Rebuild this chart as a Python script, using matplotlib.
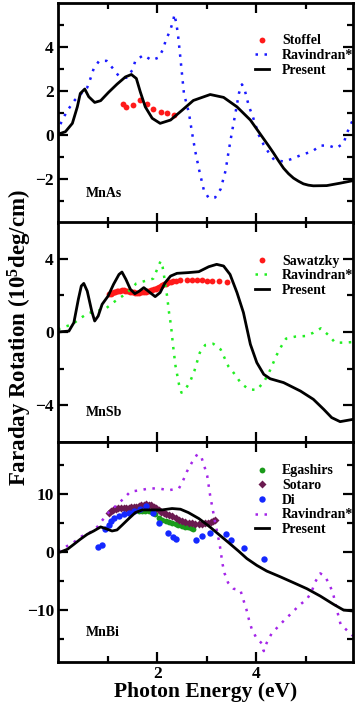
import numpy as np
import matplotlib
matplotlib.use('Agg')
import matplotlib.pyplot as plt
from matplotlib.ticker import FixedLocator

plt.rcParams['font.family'] = ['Liberation Serif', 'DejaVu Serif']
plt.rcParams['font.weight'] = 'bold'
plt.rcParams['mathtext.fontset'] = 'custom'
plt.rcParams['mathtext.rm'] = 'Liberation Serif:bold'
plt.rcParams['mathtext.default'] = 'rm'

# ---------------- MnAs ----------------
as_present_x = [0.0, 0.02, 0.15, 0.29, 0.39, 0.45, 0.54, 0.62, 0.74, 0.86, 1.02, 1.19, 1.36,
                1.48, 1.58, 1.66, 1.76, 1.9, 2.06, 2.27, 2.5, 2.73, 3.07, 3.34, 3.61, 3.88,
                4.14, 4.25, 4.35, 4.45, 4.55, 4.65, 4.75, 4.85, 4.95, 5.05, 5.15, 5.42, 5.69,
                5.96]
as_present_y = [0.0, 0.05, 0.15, 0.53, 1.28, 1.89, 2.09, 1.74, 1.48, 1.56, 1.94, 2.31, 2.64,
                2.75, 2.57, 1.96, 1.28, 0.76, 0.53, 0.68, 1.12, 1.57, 1.84, 1.71, 1.28, 0.68,
                -0.15, -0.5, -0.83, -1.18, -1.51, -1.76, -1.96, -2.1, -2.22, -2.28, -2.31,
                -2.3, -2.19, -2.07]
as_rav_x = [0.0, 0.04, 0.12, 0.22, 0.34, 0.46, 0.59, 0.66, 0.72, 0.83, 0.98, 1.11, 1.23, 1.38,
            1.5, 1.56, 1.72, 1.89, 2.03, 2.12, 2.18, 2.26, 2.32, 2.35, 2.39, 2.42, 2.46, 2.5,
            2.54, 2.59, 2.64, 2.7, 2.77, 2.85, 2.94, 3.04, 3.17, 3.28, 3.33, 3.38, 3.44, 3.51,
            3.58, 3.65, 3.71, 3.76, 3.8, 3.85, 3.93, 4.05, 4.15, 4.25, 4.36, 4.56, 4.75, 4.93,
            5.12, 5.29, 5.46, 5.61, 5.76, 5.83, 5.95]
as_rav_y = [0.1, 0.45, 0.83, 1.21, 1.59, 1.86, 2.16, 2.6, 3.02, 3.37, 3.37, 3.02, 2.67, 2.6,
            2.95, 3.37, 3.63, 3.4, 3.52, 3.9, 4.35, 4.73, 5.18, 5.48, 5.02, 4.56, 3.7, 2.79,
            1.89, 1.44, 1.01, 0.15, -0.76, -1.62, -2.49, -2.87, -2.84, -2.46, -2.04, -1.62,
            -0.76, 0.15, 1.01, 1.9, 2.3, 2.11, 1.74, 1.31, 0.83, 0.0, -0.45, -0.8, -1.13,
            -1.21, -1.06, -0.88, -0.76, -0.48, -0.48, -0.6, -0.38, 0.1, 0.7]
stoffel_x = [1.32, 1.38, 1.51, 1.65, 1.79, 1.92, 2.07, 2.2, 2.34]
stoffel_y = [1.39, 1.28, 1.36, 1.59, 1.39, 1.19, 1.03, 0.98, 0.91]

# ---------------- MnSb ----------------
sb_present_x = [0.0, 0.22, 0.32, 0.41, 0.47, 0.52, 0.59, 0.68, 0.74, 0.81, 0.89, 1.01, 1.12,
                1.23, 1.29, 1.37, 1.46, 1.55, 1.64, 1.73, 1.82, 1.96, 2.06, 2.16, 2.27, 2.4,
                2.63, 2.84, 3.04, 3.2, 3.34, 3.47, 3.61, 3.74, 3.88, 4.01, 4.15, 4.28, 4.55,
                4.89, 5.15, 5.36, 5.52, 5.69, 5.96]
sb_present_y = [0.0, 0.05, 0.51, 1.78, 2.51, 2.65, 2.23, 1.14, 0.6, 0.87, 1.51, 1.96, 2.6,
                3.14, 3.27, 2.87, 2.33, 2.09, 2.23, 2.42, 2.23, 1.93, 2.15, 2.69, 3.05, 3.2,
                3.24, 3.29, 3.56, 3.69, 3.6, 3.14, 2.15, 1.06, -0.67, -1.67, -2.31, -2.55,
                -2.76, -3.22, -3.67, -4.22, -4.67, -4.89, -4.76]
sb_rav_x = [0.0, 0.12, 0.29, 0.44, 0.6, 0.79, 0.96, 1.11, 1.3, 1.43, 1.58, 1.75, 1.92, 2.0,
            2.07, 2.11, 2.15, 2.2, 2.24, 2.28, 2.32, 2.37, 2.44, 2.49, 2.57, 2.67, 2.75,
            2.86, 2.97, 3.13, 3.28, 3.44, 3.58, 3.69, 3.85, 4.01, 4.15, 4.25, 4.33, 4.4, 4.5,
            4.6, 4.79, 4.99, 5.15, 5.3, 5.46, 5.59, 5.76, 5.95]
sb_rav_y = [0.15, 0.27, 0.42, 0.73, 1.02, 1.15, 1.27, 1.6, 1.96, 2.24, 2.65, 2.78, 2.91, 3.42,
            3.87, 3.55, 2.87, 1.96, 1.05, 0.33, -0.73, -1.85, -2.85, -3.31, -3.13, -2.67,
            -2.13, -1.13, -0.71, -0.64, -0.95, -1.89, -2.35, -2.8, -3.13, -3.16, -2.73,
            -2.25, -1.76, -1.31, -0.8, -0.36, -0.25, -0.22, -0.04, 0.2, -0.18, -0.58, -0.58,
            -0.55]
saw_x = [1.03, 1.06, 1.09, 1.12, 1.15, 1.19, 1.22, 1.26, 1.29, 1.33, 1.36, 1.4, 1.43, 1.46,
         1.5, 1.53, 1.56, 1.6, 1.63, 1.66, 1.7, 1.73, 1.77, 1.8, 1.83, 1.87, 1.9, 1.93, 1.97,
         2.0, 2.03, 2.07, 2.1, 2.13, 2.17, 2.2, 2.24, 2.27, 2.32, 2.37, 2.47, 2.6, 2.7, 2.81,
         2.91, 3.01, 3.11, 3.24, 3.41]
saw_y = [2.05, 2.1, 2.15, 2.18, 2.2, 2.24, 2.25, 2.26, 2.27, 2.27, 2.26, 2.24, 2.22, 2.2,
         2.18, 2.16, 2.15, 2.15, 2.15, 2.16, 2.17, 2.18, 2.2, 2.22, 2.24, 2.27, 2.3, 2.33, 2.36,
         2.4, 2.45, 2.51, 2.55, 2.6, 2.64, 2.68, 2.72, 2.75, 2.77, 2.78, 2.84, 2.84, 2.82,
         2.82, 2.82, 2.78, 2.78, 2.78, 2.75]

# ---------------- MnBi ----------------
bi_present_x = [0.0, 0.05, 0.19, 0.32, 0.45, 0.59, 0.72, 0.86, 0.96, 1.09, 1.19, 1.29, 1.43,
                1.56, 1.7, 1.9, 2.1, 2.3, 2.47, 2.63, 2.84, 3.04, 3.24, 3.44, 3.64, 3.81,
                4.01, 4.21, 4.48, 4.75, 5.02, 5.29, 5.56, 5.76, 5.96]
bi_present_y = [0.0, 0.0, 0.47, 1.33, 2.2, 3.06, 3.63, 4.33, 4.05, 3.63, 3.81, 4.62, 5.78,
                6.81, 7.27, 7.27, 7.27, 7.51, 7.39, 6.81, 5.78, 4.5, 3.06, 1.63, 0.17, -1.14,
                -2.31, -3.29, -4.27, -5.3, -6.34, -7.61, -9.05, -10.03, -10.2]
bi_rav_x = [0.0, 0.12, 0.29, 0.49, 0.64, 0.79, 0.91, 1.03, 1.18, 1.33, 1.46, 1.65, 1.85, 2.05,
            2.23, 2.44, 2.52, 2.6, 2.7, 2.81, 2.89, 2.95, 3.01, 3.04, 3.07, 3.12, 3.17, 3.22,
            3.26, 3.29, 3.32, 3.36, 3.43, 3.54, 3.68, 3.74, 3.8, 3.85, 3.91, 4.0, 4.11, 4.15,
            4.21, 4.31, 4.45, 4.58, 4.72, 4.87, 5.02, 5.12, 5.19, 5.29, 5.39, 5.49, 5.56,
            5.64, 5.7, 5.83, 5.95]
bi_rav_y = [0.2, 0.75, 1.5, 2.77, 3.34, 4.32, 5.65, 6.92, 8.07, 9.28, 10.43, 10.66, 11.0,
            10.95, 10.66, 11.0, 12.28, 13.89, 15.45, 16.89, 16.43, 14.87, 13.14, 11.41, 9.68,
            7.38, 5.07, 3.05, 1.33, -0.4, -2.13, -3.69, -5.3, -6.34, -6.63, -8.3, -9.91,
            -11.64, -13.37, -14.81, -15.79, -17.12, -15.68, -14.06, -12.8, -11.64, -10.49,
            -9.16, -8.18, -6.74, -5.13, -3.69, -4.27, -5.88, -7.61, -10.49, -12.51, -13.54,
            -14.5]
ega_x = [1.63, 1.7, 1.76, 1.84, 1.9, 1.96, 2.03, 2.1, 2.17, 2.23, 2.3, 2.37, 2.43, 2.5, 2.56,
         2.62, 2.68, 2.73]
ega_y = [7.09, 7.0, 7.0, 7.0, 6.9, 6.5, 5.95, 5.6, 5.35, 5.2, 5.07, 4.85, 4.65, 4.5, 4.38,
         4.25, 4.12, 4.04]
sot_x = [1.03, 1.07, 1.11, 1.16, 1.21, 1.27, 1.33, 1.38, 1.43, 1.48, 1.53, 1.58, 1.63, 1.68,
         1.73, 1.78, 1.83, 1.88, 1.93, 1.98, 2.03, 2.08, 2.13, 2.18, 2.24, 2.3, 2.37, 2.44,
         2.5, 2.57, 2.64, 2.7, 2.77, 2.84, 2.9, 2.97, 3.03, 3.08, 3.13, 3.17]
sot_y = [6.75, 7.0, 7.3, 7.45, 7.52, 7.55, 7.6, 7.65, 7.67, 7.7, 7.74, 7.8, 7.92, 8.07,
         8.17, 8.24, 8.2, 8.07, 7.85, 7.55, 7.25, 6.95, 6.7, 6.5, 6.35, 6.2, 5.8, 5.55, 5.36,
         5.15, 5.0, 4.96, 4.92, 4.9, 4.9, 4.95, 5.02, 5.1, 5.3, 5.5]
di_x = [0.81, 0.88, 0.95, 1.03, 1.06, 1.13, 1.23, 1.33, 1.43, 1.53, 1.65, 1.77, 1.92, 2.03,
        2.22, 2.32, 2.38, 2.79, 2.91, 3.07, 3.38, 3.49, 3.76, 4.16]
di_y = [0.92, 1.15, 3.92, 4.61, 5.36, 5.94, 6.22, 6.51, 6.8, 7.09, 7.49, 7.95, 6.8, 5.07,
        3.34, 2.65, 2.19, 2.07, 2.77, 3.34, 3.17, 2.02, 0.69, -1.15]

W, H = 3.57, 7.10
fig = plt.figure(figsize=(W, H), dpi=100)
left, right = 58 / 357, 353 / 357
tops = [3, 222, 442]
ph = 220
axes = []
for t in tops:
    ax = fig.add_axes([left, 1 - (t + ph) / 710, right - left, ph / 710])
    axes.append(ax)

dot = (0, (1.0, 2.6))
ax1, ax2, ax3 = axes

ax1.plot(stoffel_x, stoffel_y, 'o', color='#ff1a1a', ms=4.2, mec='none', label='Stoffel')
ax1.plot(as_rav_x, as_rav_y, color='#1a1aff', lw=1.8, ls=dot, label='Ravindran*')
ax1.plot(as_present_x, as_present_y, color='black', lw=2.0, label='Present')
ax1.set_ylim(-4, 6)
ax1.yaxis.set_major_locator(FixedLocator([-2, 0, 2, 4]))
ax1.yaxis.set_minor_locator(FixedLocator([-3, -1, 1, 3, 5]))

ax2.plot(saw_x, saw_y, 'o', color='#ff1a1a', ms=4.2, mec='none', label='Sawatzky')
ax2.plot(sb_rav_x, sb_rav_y, color='#22ee22', lw=1.8, ls=dot, label='Ravindran*')
ax2.plot(sb_present_x, sb_present_y, color='black', lw=2.0, label='Present')
ax2.set_ylim(-6, 6)
ax2.yaxis.set_major_locator(FixedLocator([-4, 0, 4]))
ax2.yaxis.set_minor_locator(FixedLocator([-2, 2]))

ax3.plot(ega_x, ega_y, 'o', color='#1a9a1a', ms=4.2, mec='none', label='Egashirs')
ax3.plot(sot_x, sot_y, 'D', color='#6b1a50', ms=3.6, mec='none', label='Sotaro')
ax3.plot(di_x, di_y, 'o', color='#1428ff', ms=4.6, mec='none', label='Di')
ax3.plot(bi_rav_x, bi_rav_y, color='#a425e8', lw=1.8, ls=dot, label='Ravindran*')
ax3.plot(bi_present_x, bi_present_y, color='black', lw=2.0, label='Present')
ax3.set_ylim(-19, 19)
ax3.yaxis.set_major_locator(FixedLocator([-10, 0, 10]))
ax3.yaxis.set_minor_locator(FixedLocator([-15, -5, 5, 15]))

names = ['MnAs', 'MnSb', 'MnBi']
leg_tops = [0.857, 0.852, 0.898]
for ax, name, lt in zip(axes, names, leg_tops):
    ax.set_xlim(0, 5.95)
    ax.xaxis.set_major_locator(FixedLocator([2, 4]))
    ax.xaxis.set_minor_locator(FixedLocator([1, 3, 5]))
    ax.tick_params(which='both', direction='in', top=True, right=True, width=1.6,
                   labelsize=12.5, pad=3)
    ax.tick_params(which='major', length=7)
    ax.tick_params(which='minor', length=4)
    for s in ax.spines.values():
        s.set_linewidth(2.0)
    ax.text(0.095, 0.135, name, transform=ax.transAxes, fontsize=10, fontweight='bold',
            va='center')
    ax.legend(loc='upper left', bbox_to_anchor=(0.668, lt), frameon=False,
              fontsize=10, handlelength=1.0, handletextpad=0.94, labelspacing=0.12,
              borderaxespad=0, borderpad=0)
    if ax is not ax3:
        ax.tick_params(labelbottom=False)

ax3.set_xlabel('Photon Energy (eV)', fontsize=15.5, fontweight='bold', labelpad=0)
fig.text(0.056, 0.524, 'Faraday Rotation (10$^{5}$deg/cm)', rotation=90, fontsize=16.5,
         fontweight='bold', ha='center', va='center')

fig.savefig('out.png', dpi=100)
